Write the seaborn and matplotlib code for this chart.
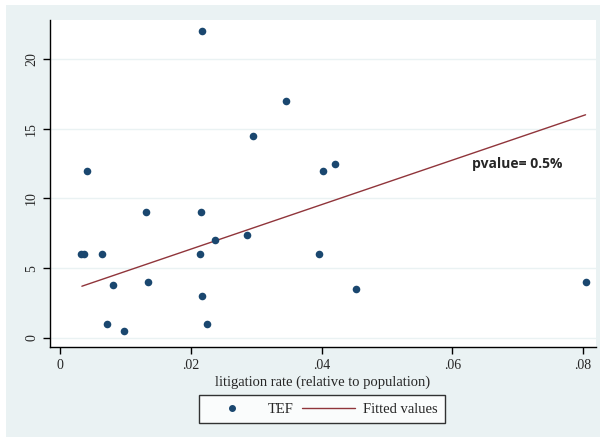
import numpy as np
import pandas as pd
import matplotlib
matplotlib.use('Agg')
import matplotlib.pyplot as plt
import seaborn as sns
from matplotlib.patches import Rectangle
from matplotlib.lines import Line2D

# data
litigation_rate = [0.0032, 0.0037, 0.0041, 0.0064, 0.0071, 0.0080, 0.0098,
                   0.0131, 0.0134, 0.0214, 0.0216, 0.0217, 0.0217, 0.0224,
                   0.0237, 0.0285, 0.0295, 0.0346, 0.0396, 0.0402, 0.0421,
                   0.0452, 0.0804]
tef = [6.0, 6.0, 12.0, 6.0, 1.0, 3.8, 0.5,
       9.0, 4.0, 6.0, 9.0, 3.0, 22.0, 1.0,
       7.0, 7.4, 14.5, 17.0, 6.0, 12.0, 12.5,
       3.5, 4.0]
# fitted values as shown in the picture
fit_x = [0.0033, 0.0804]
fit_y = [3.7, 16.0]
x_ticks = [0, 0.02, 0.04, 0.06, 0.08]
x_tick_labels = ['0', '.02', '.04', '.06', '.08']
y_ticks = [0, 5, 10, 15, 20]

df = pd.DataFrame({'litigation': litigation_rate, 'TEF': tef})
fit = pd.DataFrame({'litigation': fit_x, 'fitted': fit_y})

sns.set_style('white')
plt.rcParams['font.family'] = ['Liberation Serif', 'DejaVu Serif']

navy = '#1a476f'
maroon = '#90353b'
region = '#eaf2f3'

fig = plt.figure(figsize=(6.05, 4.42), dpi=100, facecolor='white')
fig.patches.append(Rectangle((6 / 605, 5 / 442), 594 / 605, 432 / 442,
                             transform=fig.transFigure, facecolor=region,
                             edgecolor='none', zorder=-10))
ax = fig.add_axes([50 / 605, 1 - 347 / 442, 546 / 605, 327 / 442])
ax.set_facecolor('white')

sns.lineplot(data=fit, x='litigation', y='fitted', color=maroon,
             linewidth=1.0, ax=ax)
sns.scatterplot(data=df, x='litigation', y='TEF', color=navy, s=30,
                edgecolor=navy, linewidth=0, ax=ax, zorder=3)

ax.set_xlim(-0.00158, 0.0820)
ax.set_ylim(-0.66, 22.8)
ax.set_xticks(x_ticks)
ax.set_xticklabels(x_tick_labels)
ax.set_yticks(y_ticks)
ax.set_yticklabels([str(v) for v in y_ticks], rotation=90, va='center')
ax.tick_params(axis='both', direction='out', length=5, width=1, color='black',
               labelsize=10, left=True, bottom=True)
ax.grid(axis='y', color=region, linewidth=1)
ax.set_axisbelow(True)
for side in ['top', 'right']:
    ax.spines[side].set_visible(False)
for side in ['left', 'bottom']:
    ax.spines[side].set_color('black')
    ax.spines[side].set_linewidth(1)

ax.set_xlabel('litigation rate (relative to population)', fontsize=10.5, labelpad=3)
ax.set_ylabel('')

ax.text(0.063, 12.44, 'pvalue= 0.5%', fontsize=10, fontweight='bold',
        family=['Open Sans', 'DejaVu Sans'], va='center', ha='left')

handles = [Line2D([], [], marker='o', color=navy, linestyle='none', markersize=4),
           Line2D([], [], color=maroon, linewidth=1)]
leg = fig.legend(handles, ['TEF', 'Fitted values'], loc='center',
                 bbox_to_anchor=(322 / 605, 1 - 409 / 442), ncol=2,
                 frameon=True, fancybox=False, fontsize=10.5,
                 handlelength=3.6, handletextpad=0.6, columnspacing=0.6,
                 borderpad=0.5, borderaxespad=0)
leg.get_frame().set_edgecolor('black')
leg.get_frame().set_linewidth(1)
leg.get_frame().set_facecolor('white')

fig.savefig('out.png', dpi=100, facecolor='white')
